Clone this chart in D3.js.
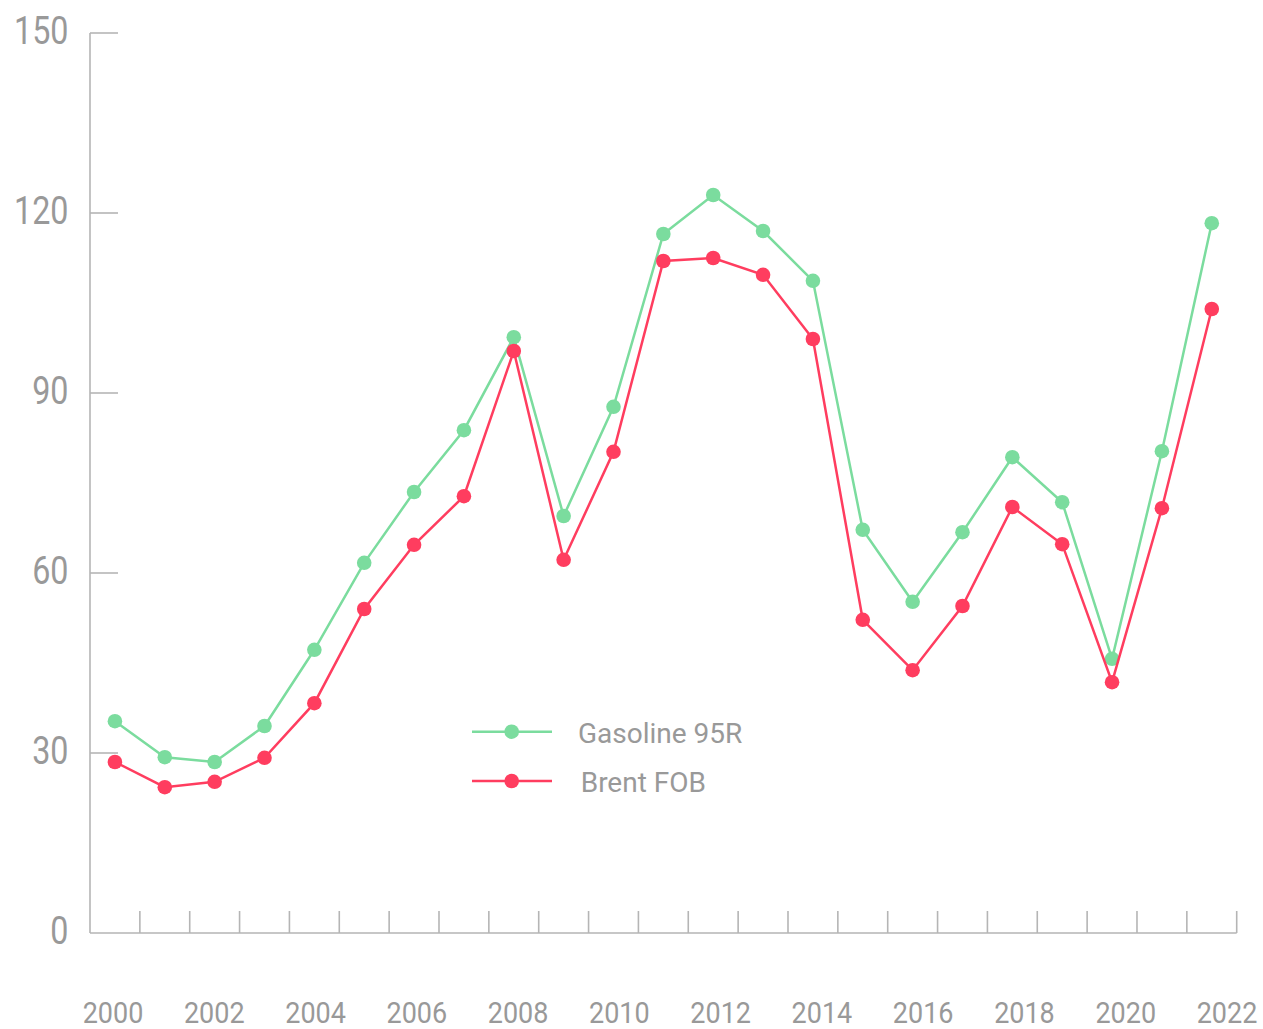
<!DOCTYPE html>
<html><head><meta charset="utf-8">
<script src="https://cdn.jsdelivr.net/npm/d3@7"></script>
<style>
html,body{margin:0;padding:0;background:#fff;}
text{font-family:Roboto,"Noto Sans",sans-serif;fill:#999999;}
</style></head>
<body><svg id="c" width="1263" height="1029"></svg>
<script>
const years = d3.range(2000, 2023);
const gasoline = [35.3,29.3,28.5,34.5,47.2,61.7,73.5,83.8,99.3,69.5,87.7,116.5,123,117,108.7,67.2,55.2,66.8,79.3,71.8,45.7,80.3,118.3];
const brent = [28.5,24.3,25.2,29.2,38.3,54,64.7,72.8,97,62.2,80.2,112,112.5,109.7,99,52.2,43.8,54.5,71,64.8,41.8,70.8,104];
const yTicks = [0,30,60,90,120,150];
const xLabels = years.filter(y => y % 2 === 0);
const seriesNames = ["Gasoline 95R","Brent FOB"];
const colors = ["#7bdc9e","#ff3d5f"];

const svg = d3.select("#c");
const axisColor = "#b5b5b5";
const x = d3.scaleBand().domain(years).range([90, 1236.7]);
const y = d3.scaleLinear().domain([0,150]).range([933, 33]);
const xl = d3.scalePoint().domain(xLabels).range([113, 1227]);

svg.append("line").attr("x1",90).attr("x2",90).attr("y1",y(150)).attr("y2",y(0)).attr("stroke",axisColor).attr("stroke-width",1.6);
svg.append("line").attr("x1",90).attr("x2",1236.7).attr("y1",y(0)).attr("y2",y(0)).attr("stroke",axisColor).attr("stroke-width",1.6);
svg.selectAll(".yt").data(yTicks.filter(d=>d>0)).join("line")
  .attr("x1",90).attr("x2",118).attr("y1",d=>y(d)).attr("y2",d=>y(d))
  .attr("stroke",axisColor).attr("stroke-width",1.6);
svg.selectAll(".yl").data(yTicks).join("text")
  .attr("transform",d=>`translate(68.5,${y(d)-3+13.5})scale(0.85,1)`).attr("text-anchor","end")
  .attr("font-size",38).text(d=>d);
svg.selectAll(".xt").data(years).join("line")
  .attr("x1",d=>x(d)+x.bandwidth()).attr("x2",d=>x(d)+x.bandwidth())
  .attr("y1",y(0)).attr("y2",y(0)-22)
  .attr("stroke",axisColor).attr("stroke-width",1.6);
svg.selectAll(".xl").data(xLabels).join("text")
  .attr("transform",d=>`translate(${xl(d)},1023)scale(0.9,1)`).attr("text-anchor","middle")
  .attr("font-size",30).text(d=>d);

const cx = d => x(d) + x.bandwidth()/2;
[gasoline, brent].forEach((vals,i)=>{
  const pts = years.map((yr,j)=>[cx(yr), y(vals[j])]);
  svg.append("path").attr("d", d3.line()(pts)).attr("fill","none")
    .attr("stroke",colors[i]).attr("stroke-width",2.5);
  svg.selectAll(".p"+i).data(pts).join("circle")
    .attr("cx",d=>d[0]).attr("cy",d=>d[1]).attr("r",7.3).attr("fill",colors[i]);
});

const leg = [{y:731.7, tx:578, ty:743},{y:781, tx:580.7, ty:792}];
leg.forEach((l,i)=>{
  svg.append("line").attr("x1",472).attr("x2",552).attr("y1",l.y).attr("y2",l.y)
    .attr("stroke",colors[i]).attr("stroke-width",2.5);
  svg.append("circle").attr("cx",511.7).attr("cy",l.y).attr("r",7.3).attr("fill",colors[i]);
  svg.append("text").attr("x",l.tx).attr("y",l.ty).attr("font-size",28).text(seriesNames[i]);
});
</script></body></html>
